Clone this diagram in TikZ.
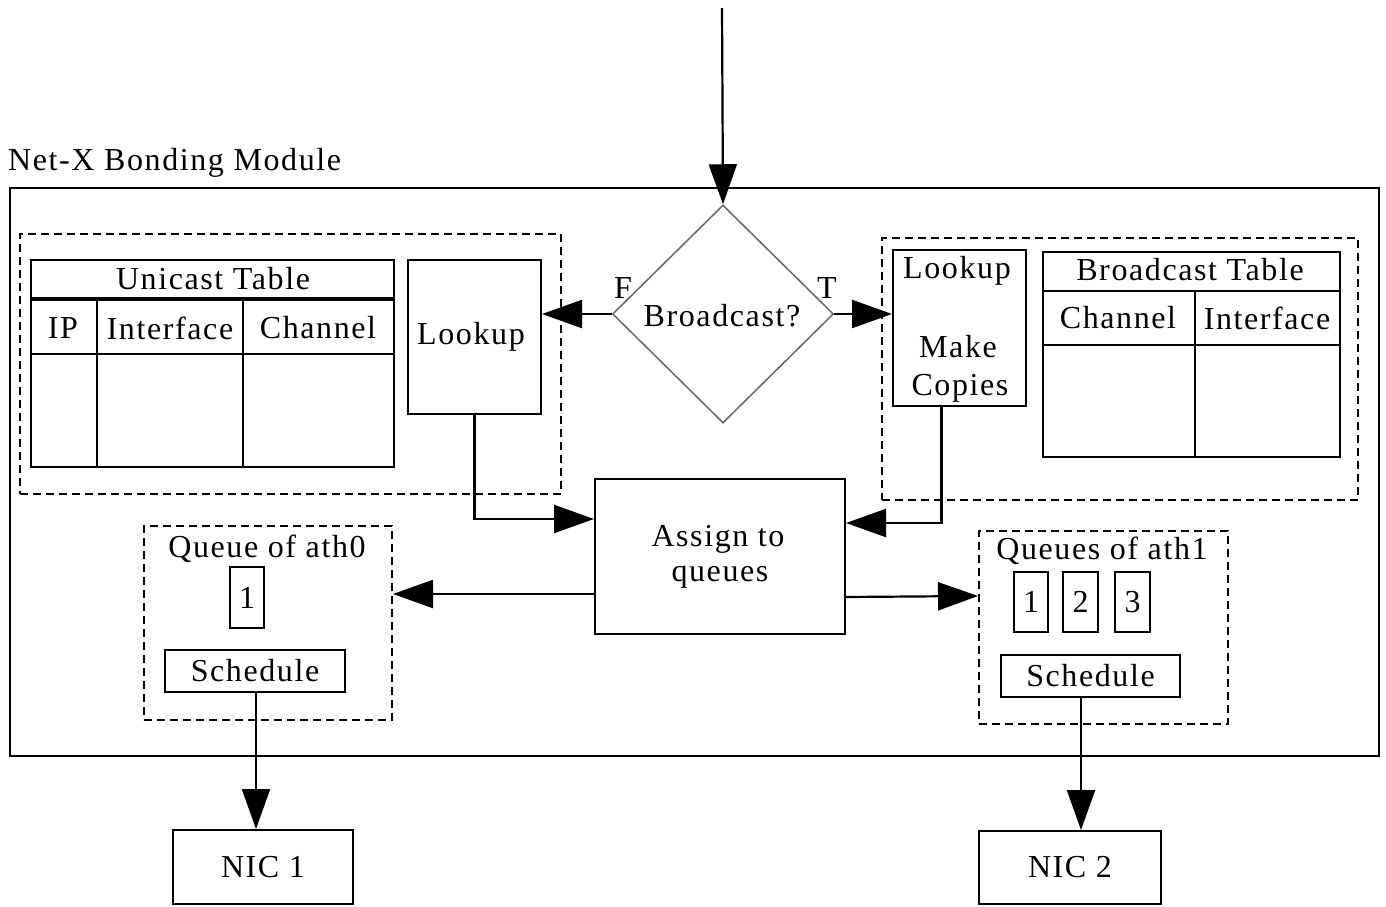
\documentclass[tikz,border=0pt]{standalone}
\usepackage{fontspec}
\setmainfont{Liberation Serif}[LetterSpace=5]
\usetikzlibrary{arrows.meta,shapes.geometric,calc}
\begin{document}
\begin{tikzpicture}[x=1pt,y=-1pt,
  every node/.style={font=\fontsize{32}{36}\selectfont},
  box/.style={draw,line width=2pt,inner sep=0pt},
  dbox/.style={draw,line width=2pt,dash pattern=on 8pt off 5pt,inner sep=0pt},
  lbl/.style={inner sep=0pt,anchor=center},
  arr/.style={-{Triangle[length=40pt,width=28pt]},line width=2.2pt},
  ln/.style={line width=2pt}]
\useasboundingbox (0,0) rectangle (1386,907);
% outer module
\node[box,minimum width=1369pt,minimum height=568pt] (mod) at (694.5,472) {};
\node[lbl,anchor=south west] (title) at (8,178) {Net-X Bonding Module};
% left group
\node[dbox,minimum width=541pt,minimum height=260pt] (lgrp) at (290.5,364) {};
\node[box,minimum width=363pt,minimum height=207pt] (utab) at (212.5,363.5) {};
\node[lbl] (utt) at (213,279) {Unicast Table};
\draw[line width=4pt] (utab.west|-0,298.5) coordinate (ua) -- (utab.east|-ua);
\draw[ln] (utab.west|-0,354) coordinate (ub) -- (utab.east|-ub);
\draw[ln] (97,299) coordinate (uc1) -- (uc1|-utab.south);
\draw[ln] (243,299) coordinate (uc2) -- (uc2|-utab.south);
\node[lbl] (uip) at (63,328) {IP};
\node[lbl] (uif) at (170,328) {Interface};
\node[lbl] (uch) at (318,328) {Channel};
\node[box,minimum width=133pt,minimum height=154pt] (llook) at (474.5,337) {};
\node[lbl] (llt) at (471,337) {Lookup};
% diamond
\coordinate (in) at (722,8);
\node[draw=black!60,line width=1.5pt,shape=diamond,inner sep=0pt,minimum width=221pt,minimum height=218pt] (dia) at (723,314) {};
\node[lbl] (diat) at (722,316) {Broadcast?};
\node[lbl] (F) at (623,288) {F};
\node[lbl] (T) at (827,288) {T};
\draw[arr] (in) -- (dia.north);
% right group
\node[dbox,minimum width=476pt,minimum height=262pt] (rgrp) at (1120,369) {};
\node[box,minimum width=133pt,minimum height=156pt] (rlook) at (959.5,328) {};
\node[lbl] (rl1) at (957,271) {Lookup};
\node[lbl] (rl2) at (958,347) {Make};
\node[lbl] (rl3) at (960,388) {Copies};
\node[box,minimum width=297pt,minimum height=205pt] (btab) at (1191.5,354.5) {};
\node[lbl] (btt) at (1190,270) {Broadcast Table};
\draw[ln] (btab.west|-0,291) coordinate (ba) -- (btab.east|-ba);
\draw[ln] (btab.west|-0,345) coordinate (bb) -- (btab.east|-bb);
\draw[ln] (1195,291) coordinate (bc) -- (bc|-btab.south);
\node[lbl] (bch) at (1118,318) {Channel};
\node[lbl] (bif) at (1267,318) {Interface};
\draw[arr] (dia.west) -- (llook.east|-dia.west);
\draw[arr] (dia.east) -- (rlook.west|-dia.east);
% assign
\node[box,minimum width=250pt,minimum height=155pt] (assign) at (720,556.5) {};
\node[lbl] (as1) at (718,539) {Assign to};
\node[lbl] (as2) at (720,577) {queues};
\draw[arr] (llook.south) |- (assign.west|-0,519);
\draw[arr] ([xshift=-18pt]rlook.south) |- (assign.east|-0,523);
% queue 0
\node[dbox,minimum width=248pt,minimum height=194pt] (q0) at (268,623) {};
\node[lbl] (q0t) at (267,549) {Queue of ath0};
\node[box,minimum width=34pt,minimum height=61pt] (q01) at (247,597.5) {};
\node[lbl] at (q01) {1};
\node[box,minimum width=180pt,minimum height=42pt] (s0) at (255,671) {Schedule};
\node[box,minimum width=180pt,minimum height=74pt] (nic1) at (263,867) {NIC 1};
\draw[arr] (assign.west|-0,594) -- (q0.east|-0,594);
\draw[arr] ([xshift=1pt]s0.south) -- ([xshift=1pt]s0.south|-nic1.north);
% queue 1
\node[dbox,minimum width=249pt,minimum height=193pt] (q1) at (1103.5,627.5) {};
\node[lbl] (q1t) at (1102,551) {Queues of ath1};
\node[box,minimum width=34pt,minimum height=60pt] (q11) at (1031,602) {};
\node[lbl] at (q11) {1};
\node[box,minimum width=35pt,minimum height=60pt] (q12) at (1080.5,602) {};
\node[lbl] at (q12) {2};
\node[box,minimum width=35pt,minimum height=60pt] (q13) at (1132.5,602) {};
\node[lbl] at (q13) {3};
\node[box,minimum width=179pt,minimum height=42pt] (s1) at (1090.5,676) {Schedule};
\node[box,minimum width=182pt,minimum height=73pt] (nic2) at (1070,867.5) {NIC 2};
\draw[arr] (assign.east|-0,597) -- (q1.west|-0,596);
\draw[arr] ([xshift=-9.5pt]s1.south) -- ([xshift=-9.5pt]s1.south|-nic2.north);
\end{tikzpicture}
\end{document}
